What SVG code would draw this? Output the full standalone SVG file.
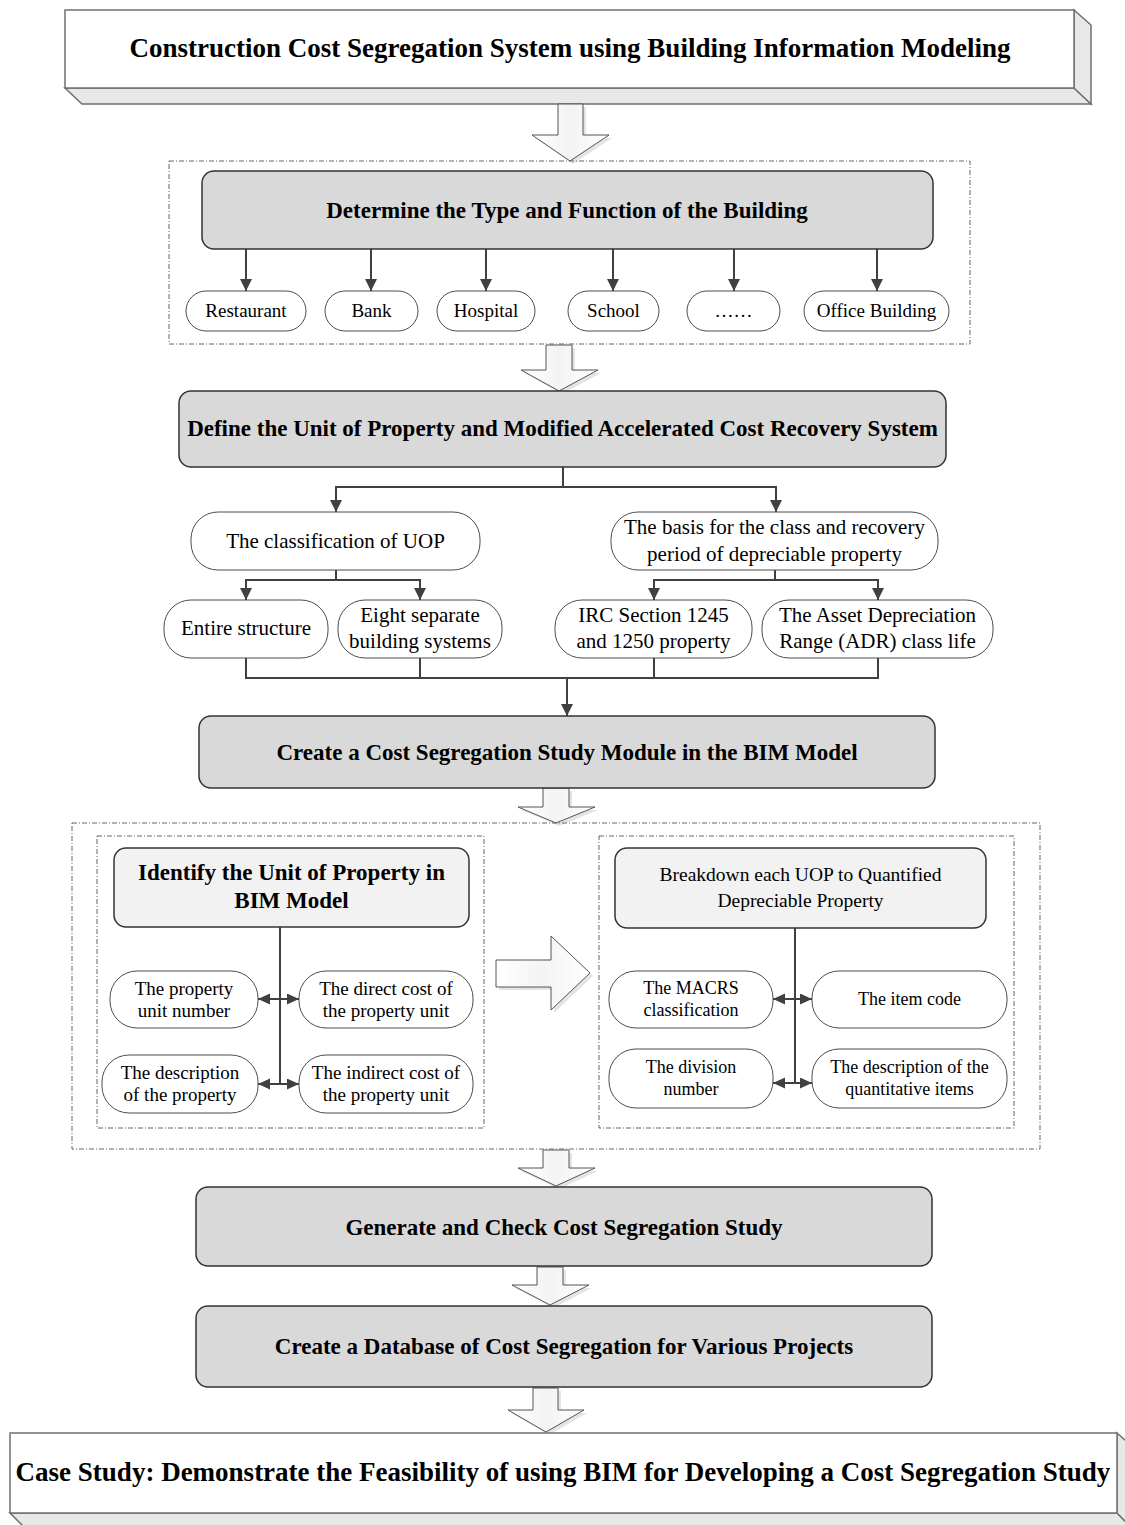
<svg xmlns="http://www.w3.org/2000/svg" width="1125" height="1525" viewBox="0 0 1125 1525">
<style>
.hd{font-family:"Liberation Serif","Times New Roman",serif;font-weight:bold;font-size:23px;fill:#000;text-anchor:middle}
.tt{font-family:"Liberation Serif","Times New Roman",serif;font-weight:bold;font-size:27px;fill:#000;text-anchor:middle}
.t19{font-family:"Liberation Serif","Times New Roman",serif;font-size:19px;fill:#000;text-anchor:middle}
.t21{font-family:"Liberation Serif","Times New Roman",serif;font-size:21px;fill:#000;text-anchor:middle}
.t18{font-family:"Liberation Serif","Times New Roman",serif;font-size:18px;fill:#000;text-anchor:middle}
.t195{font-family:"Liberation Serif","Times New Roman",serif;font-size:19.5px;fill:#000;text-anchor:middle}
.box{fill:#d9d9d9;stroke:#333;stroke-width:1.5}
.lbox{fill:#f2f2f2;stroke:#333;stroke-width:1.5}
.pill{fill:#fff;stroke:#4d4d4d;stroke-width:1}
.dash{fill:none;stroke:#666;stroke-width:1;stroke-dasharray:5,2,1,2}
.face{fill:#fff;stroke:#707070;stroke-width:1.5}
.slab{fill:#e8e8e8;stroke:#707070;stroke-width:1.5}
.ln{fill:none;stroke:#404040;stroke-width:2}
.arr{fill:none;stroke:#404040;stroke-width:2;marker-end:url(#ah)}
.darr{fill:none;stroke:#404040;stroke-width:2;marker-end:url(#ah2);marker-start:url(#ah2)}
.blk{fill:url(#bg);stroke:#555;stroke-width:1}
.shd{fill:#e4e4e4;stroke:none}
</style>
<defs>
<marker id="ah" markerUnits="userSpaceOnUse" markerWidth="13" markerHeight="13" refX="12" refY="6" orient="auto">
<path d="M0,0 L12,6 L0,12 z" fill="#404040"/>
</marker>
<marker id="ah2" markerUnits="userSpaceOnUse" markerWidth="13" markerHeight="13" refX="12" refY="5.5" orient="auto-start-reverse">
<path d="M0,0 L12,5.5 L0,11 z" fill="#404040"/>
</marker>
<linearGradient id="bg" x1="0" y1="0" x2="1" y2="0">
<stop offset="0" stop-color="#ffffff"/>
<stop offset="0.5" stop-color="#f3f3f3"/>
<stop offset="1" stop-color="#ffffff"/>
</linearGradient>
</defs>

<g id="title">
<polygon class="slab" points="65,88 1074,88 1091,104 82,104"/>
<polygon class="slab" points="1074,10 1091,25 1091,104 1074,88"/>
<rect class="face" x="65" y="10" width="1009" height="78"/>
<text class="tt" x="570" y="57">Construction Cost Segregation System using Building Information Modeling</text>
</g>

<g id="block-arrows">
<polygon class="shd" points="561,107 586,107 586,138 612,138 573,164 535,138 561,138"/>
<polygon class="blk" points="558,104 583,104 583,135 609,135 570,161 532,135 558,135"/>
<polygon class="shd" points="549,348 575,348 575,373 601,373 562,394 524,373 549,373"/>
<polygon class="blk" points="546,345 572,345 572,370 598,370 559,391 521,370 546,370"/>
<polygon class="shd" points="546,791 572,791 572,810 598,810 559,826 521,810 546,810"/>
<polygon class="blk" points="543,788 569,788 569,807 595,807 556,823 518,807 543,807"/>
<polygon class="shd" points="546,1153 572,1153 572,1171 598,1171 559,1189 521,1171 546,1171"/>
<polygon class="blk" points="543,1150 569,1150 569,1168 595,1168 556,1186 518,1168 543,1168"/>
<polygon class="shd" points="540,1270 566,1270 566,1288 592,1288 553,1308 515,1288 540,1288"/>
<polygon class="blk" points="537,1267 563,1267 563,1285 589,1285 550,1305 512,1285 537,1285"/>
<polygon class="shd" points="536,1391 561,1391 561,1413 587,1413 549,1435 511,1413 536,1413"/>
<polygon class="blk" points="533,1388 558,1388 558,1410 584,1410 546,1432 508,1410 533,1410"/>
<polygon class="shd" points="499,963 554,963 554,939 593,976 554,1013 554,990 499,990"/>
<polygon class="blk" points="496,960 551,960 551,936 590,973 551,1010 551,987 496,987"/>
</g>

<g id="frames">
<rect class="dash" x="169" y="161" width="801" height="183"/>
<rect class="dash" x="72" y="823" width="968" height="326"/>
<rect class="dash" x="97" y="836" width="387" height="292"/>
<rect class="dash" x="599" y="836" width="415" height="292"/>
</g>

<g id="connectors">
<line class="arr" x1="246" y1="249" x2="246" y2="291"/>
<line class="arr" x1="371" y1="249" x2="371" y2="291"/>
<line class="arr" x1="486" y1="249" x2="486" y2="291"/>
<line class="arr" x1="613" y1="249" x2="613" y2="291"/>
<line class="arr" x1="734" y1="249" x2="734" y2="291"/>
<line class="arr" x1="877" y1="249" x2="877" y2="291"/>
<line class="ln" x1="563" y1="467" x2="563" y2="487"/>
<polyline class="arr" points="563,487 336,487 336,512"/>
<polyline class="arr" points="563,487 776,487 776,512"/>
<line class="ln" x1="336" y1="570" x2="336" y2="580"/>
<polyline class="arr" points="336,580 246,580 246,600"/>
<polyline class="arr" points="336,580 420,580 420,600"/>
<line class="ln" x1="775" y1="570" x2="775" y2="580"/>
<polyline class="arr" points="775,580 654,580 654,600"/>
<polyline class="arr" points="775,580 878,580 878,600"/>
<polyline class="ln" points="246,658 246,678 878,678 878,658"/>
<line class="ln" x1="420" y1="658" x2="420" y2="678"/>
<line class="ln" x1="654" y1="658" x2="654" y2="678"/>
<line class="arr" x1="567" y1="678" x2="567" y2="716"/>
<line class="ln" x1="280" y1="927" x2="280" y2="1084"/>
<line class="darr" x1="258" y1="999" x2="299" y2="999"/>
<line class="darr" x1="258" y1="1084" x2="299" y2="1084"/>
<line class="ln" x1="795" y1="928" x2="795" y2="1083"/>
<line class="darr" x1="773" y1="999" x2="812" y2="999"/>
<line class="darr" x1="773" y1="1083" x2="812" y2="1083"/>
</g>

<g id="determine">
<rect class="box" x="202" y="171" width="731" height="78" rx="12"/>
<text class="hd" x="567" y="218">Determine the Type and Function of the Building</text>
</g>
<g id="restaurant"><rect class="pill" x="186" y="291" width="120" height="40" rx="20"/><text class="t19" x="246" y="317">Restaurant</text></g>
<g id="bank"><rect class="pill" x="325" y="291" width="93" height="40" rx="20"/><text class="t19" x="371.5" y="317">Bank</text></g>
<g id="hospital"><rect class="pill" x="437" y="291" width="98" height="40" rx="20"/><text class="t19" x="486" y="317">Hospital</text></g>
<g id="school"><rect class="pill" x="568" y="291" width="91" height="40" rx="20"/><text class="t19" x="613.5" y="317">School</text></g>
<g id="etc"><rect class="pill" x="687" y="291" width="93" height="40" rx="20"/><text class="t19" x="733.5" y="317">……</text></g>
<g id="office"><rect class="pill" x="804" y="291" width="145" height="40" rx="20"/><text class="t19" x="876.5" y="317">Office Building</text></g>

<g id="define">
<rect class="box" x="179" y="391" width="767" height="76" rx="12"/>
<text class="hd" x="562.5" y="436">Define the Unit of Property and Modified Accelerated Cost Recovery System</text>
</g>
<g id="classification"><rect class="pill" x="191" y="512" width="289" height="58" rx="27"/><text class="t21" x="335.5" y="548">The classification of UOP</text></g>
<g id="basis"><rect class="pill" x="611" y="512" width="327" height="58" rx="27"/><text class="t21" x="774.5" y="534">The basis for the class and recovery</text><text class="t21" x="774.5" y="561">period of depreciable property</text></g>
<g id="entire"><rect class="pill" x="164" y="600" width="164" height="58" rx="27"/><text class="t21" x="246" y="635">Entire structure</text></g>
<g id="eight"><rect class="pill" x="338" y="600" width="164" height="58" rx="27"/><text class="t21" x="420" y="622">Eight separate</text><text class="t21" x="420" y="648">building systems</text></g>
<g id="irc"><rect class="pill" x="555" y="600" width="197" height="58" rx="27"/><text class="t21" x="653.5" y="622">IRC Section 1245</text><text class="t21" x="653.5" y="648">and 1250 property</text></g>
<g id="adr"><rect class="pill" x="762" y="600" width="231" height="58" rx="27"/><text class="t21" x="877.5" y="622">The Asset Depreciation</text><text class="t21" x="877.5" y="648">Range (ADR) class life</text></g>

<g id="create">
<rect class="box" x="199" y="716" width="736" height="72" rx="12"/>
<text class="hd" x="567" y="760">Create a Cost Segregation Study Module in the BIM Model</text>
</g>

<g id="identify">
<rect class="lbox" x="114" y="848" width="355" height="79" rx="12"/>
<text class="hd" x="291.5" y="880">Identify the Unit of Property in</text>
<text class="hd" x="291.5" y="908">BIM Model</text>
</g>
<g id="unit-number"><rect class="pill" x="110" y="971" width="148" height="57" rx="27"/><text class="t19" x="184" y="995">The property</text><text class="t19" x="184" y="1017">unit number</text></g>
<g id="direct-cost"><rect class="pill" x="299" y="971" width="174" height="57" rx="27"/><text class="t19" x="386" y="995">The direct cost of</text><text class="t19" x="386" y="1017">the property unit</text></g>
<g id="description-prop"><rect class="pill" x="102" y="1055" width="156" height="58" rx="27"/><text class="t19" x="180" y="1079">The description</text><text class="t19" x="180" y="1101">of the property</text></g>
<g id="indirect-cost"><rect class="pill" x="299" y="1055" width="174" height="58" rx="27"/><text class="t19" x="386" y="1079">The indirect cost of</text><text class="t19" x="386" y="1101">the property unit</text></g>

<g id="breakdown">
<rect class="lbox" x="615" y="848" width="371" height="80" rx="12"/>
<text class="t195" x="800.5" y="881">Breakdown each UOP to Quantified</text>
<text class="t195" x="800.5" y="907">Depreciable Property</text>
</g>
<g id="macrs"><rect class="pill" x="609" y="971" width="164" height="57" rx="27"/><text class="t18" x="691" y="994">The MACRS</text><text class="t18" x="691" y="1016">classification</text></g>
<g id="item-code"><rect class="pill" x="812" y="971" width="195" height="57" rx="27"/><text class="t18" x="909.5" y="1005">The item code</text></g>
<g id="division"><rect class="pill" x="609" y="1049" width="164" height="59" rx="27"/><text class="t18" x="691" y="1073">The division</text><text class="t18" x="691" y="1095">number</text></g>
<g id="quant-items"><rect class="pill" x="812" y="1049" width="195" height="59" rx="27"/><text class="t18" x="909.5" y="1073">The description of the</text><text class="t18" x="909.5" y="1095">quantitative items</text></g>

<g id="generate">
<rect class="box" x="196" y="1187" width="736" height="79" rx="12"/>
<text class="hd" x="564" y="1235">Generate and Check Cost Segregation Study</text>
</g>
<g id="database">
<rect class="box" x="196" y="1306" width="736" height="81" rx="12"/>
<text class="hd" x="564" y="1354">Create a Database of Cost Segregation for Various Projects</text>
</g>

<g id="case-study">
<polygon class="slab" points="10,1513 1117,1513 1134,1530 27,1530"/>
<polygon class="slab" points="1117,1433 1134,1448 1134,1530 1117,1513"/>
<rect class="face" x="10" y="1433" width="1107" height="80"/>
<text class="tt" x="563" y="1481">Case Study: Demonstrate the Feasibility of using BIM for Developing a Cost Segregation Study</text>
</g>
</svg>
